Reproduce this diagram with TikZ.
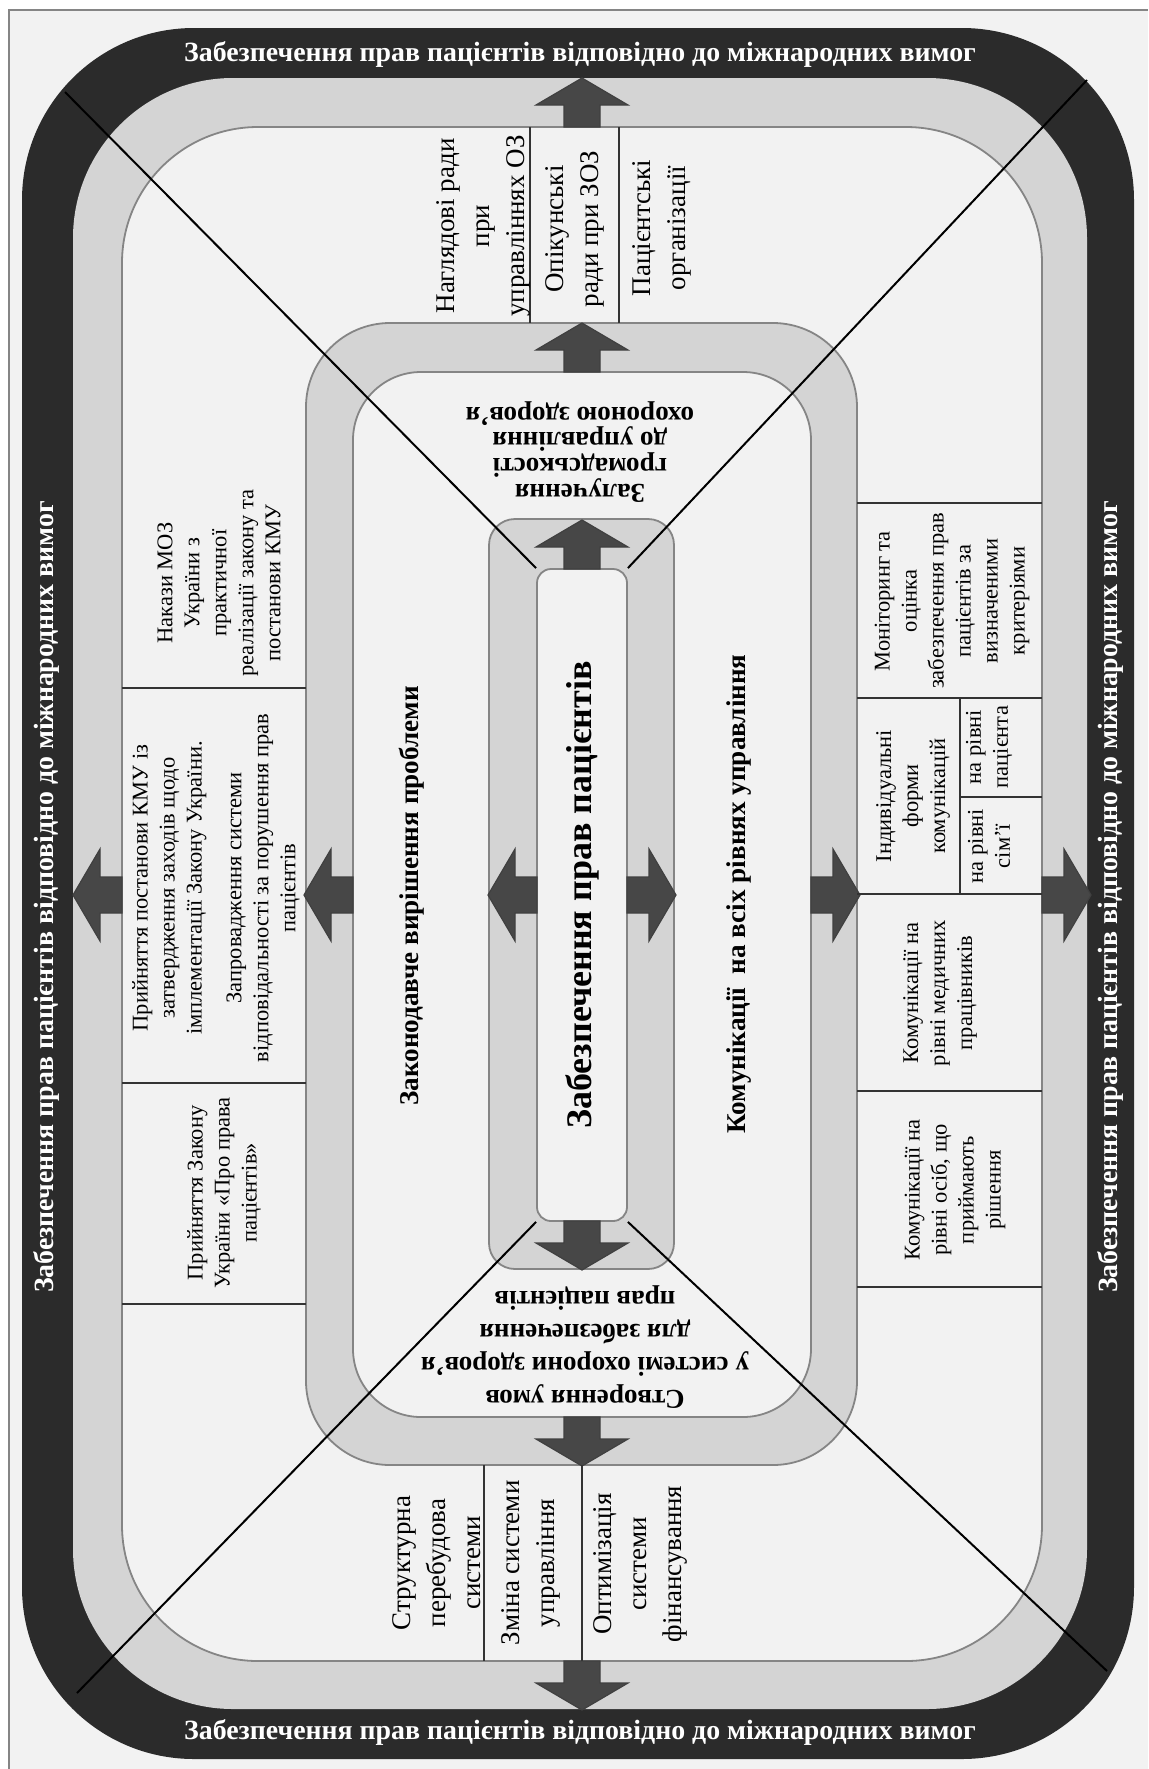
\documentclass[tikz,border=0pt]{standalone}
\usepackage{fontspec}
\setmainfont{Liberation Serif}
\usetikzlibrary{positioning}

\definecolor{bandblack}{HTML}{2B2B2B}
\definecolor{bandgray}{HTML}{D4D4D4}
\definecolor{paper}{HTML}{F2F2F2}
\definecolor{arrowgray}{HTML}{474747}
\definecolor{edgegray}{HTML}{858585}

\begin{document}
\begin{tikzpicture}[x=0.25mm, y=-0.25mm,
    ring/.style={draw=edgegray, line width=0.45mm, fill=bandgray},
    field/.style={draw=edgegray, line width=0.45mm, fill=paper},
    divider/.style={draw=black!80, line width=0.6mm},
    ray/.style={draw=black, line width=0.5mm},
    arrowbody/.style={draw=black!75, fill=arrowgray, line width=0.3mm},
    bandtext/.style={text=white, inner sep=0pt, font=\bfseries\fontsize{19.8}{23}\selectfont},
    coltext/.style={align=center, inner sep=0pt, font=\fontsize{19.2}{24.9}\selectfont},
    sidetext/.style={align=center, inner sep=0pt, font=\fontsize{16}{19.2}\selectfont},
    headtext/.style={align=center, inner sep=0pt, font=\bfseries\fontsize{19.3}{23.5}\selectfont},
    corebox/.style={draw=edgegray, fill=paper, line width=0.45mm, rounded corners=3.5mm,
        minimum width=163mm, minimum height=22.5mm, inner sep=0pt,
        font=\bfseries\fontsize{25.6}{30}\selectfont},
    blockarrow/.pic={\draw[arrowbody] (0,-18) -- (22,-18) -- (22,-46) -- (49,0) -- (22,46) -- (22,18) -- (0,18) -- cycle;}
  ]
    \useasboundingbox (0,0) rectangle (1148,1769);
    \fill[white] (0,0) rectangle (1148,1769);
    \fill[paper] (9,10) rectangle (1148,1769);
    \draw[edgegray, line width=0.4mm] (9,1769) -- (9,10) -- (1148,10);

    % outer frame
    \fill[bandblack, rounded corners=43mm] (22,28) rectangle (1134,1759);
    \fill[bandgray, rounded corners=40mm] (73,78) rectangle (1087,1709);
    \draw[field, rounded corners=34mm] (122,127) rectangle (1042,1661);

    % middle and inner rings
    \draw[ring, rounded corners=21mm] (306,323) rectangle (857,1465);
    \draw[field, rounded corners=17mm] (353,372) rectangle (811,1417);
    \draw[ring, rounded corners=6.5mm] (489,519) rectangle (674,1269);
    \node[corebox, rotate=90] (core) at (582,895) {Забезпечення прав пацієнтів};

    % rays to the corners
    \coordinate (farNW) at (65,92);
    \coordinate (farNE) at (1087,80);
    \coordinate (farSW) at (77,1693);
    \coordinate (farSE) at (1107,1671);
    \draw[ray] (core.north east) -- (farNW);
    \draw[ray] (core.south east) -- (farNE);
    \draw[ray] (core.north west) -- (farSW);
    \draw[ray] (core.south west) -- (farSE);

    % arrows
    \pic[rotate=90] at (582,569) {blockarrow};
    \pic[rotate=90] at (582,372) {blockarrow};
    \pic[rotate=90] at (582,127) {blockarrow};
    \pic[rotate=-90] at (582,1221) {blockarrow};
    \pic[rotate=-90] at (582,1417) {blockarrow};
    \pic[rotate=-90] at (582,1661) {blockarrow};
    \pic[rotate=180] at (537,895) {blockarrow};
    \pic[rotate=180] at (353,895) {blockarrow};
    \pic[rotate=180] at (122,895) {blockarrow};
    \pic at (627,895) {blockarrow};
    \pic at (811,895) {blockarrow};
    \pic at (1042,895) {blockarrow};

    % dividers
    \draw[divider] (530,127) -- (530,323);
    \draw[divider] (619,127) -- (619,323);
    \draw[divider] (484,1465) -- (484,1661);
    \draw[divider] (582,1465) -- (582,1661);
    \draw[divider] (122,688) -- (306,688);
    \draw[divider] (122,1083) -- (306,1083);
    \draw[divider] (122,1304) -- (306,1304);
    \draw[divider] (857,503) -- (1042,503);
    \draw[divider] (857,698) -- (1042,698);
    \draw[divider] (857,894) -- (1042,894);
    \draw[divider] (857,1091) -- (1042,1091);
    \draw[divider] (857,1287) -- (1042,1287);
    \draw[divider] (960,698) -- (960,894);
    \draw[divider] (960,797) -- (1042,797);

    % band labels
    \node[bandtext] (bandN) at (580,54) {Забезпечення прав пацієнтів відповідно до міжнародних вимог};
    \node[bandtext] (bandS) at (580,1732) {Забезпечення прав пацієнтів відповідно до міжнародних вимог};
    \node[bandtext, rotate=90] (bandW) at (47,897) {Забезпечення прав пацієнтів відповідно до міжнародних вимог};
    \node[bandtext, rotate=90] (bandE) at (1110,897) {Забезпечення прав пацієнтів відповідно до міжнародних вимог};

    % ring headings
    \node[headtext, rotate=90] (lawmaking) at (412,896) {Законодавче вирішення проблеми};
    \node[headtext, rotate=90] (communic) at (739,894) {Комунікації\ \ на всіх рівнях управління};
    \node[headtext, rotate=180, font=\bfseries\fontsize{19.3}{16.4}\selectfont] (publicrole) at (580,452)
        {Залучення\\громадськості\\до управління\\охороною здоров’я};
    \node[headtext, rotate=180] (conditions) at (585,1347)
        {Створення умов\\у системі охорони здоров’я\\для забезпечення\\прав пацієнтів};

    % top column
    \node[coltext, rotate=90] (boards) at (483,226) {Наглядові ради\\при\\управліннях ОЗ};
    \node[coltext, rotate=90] (trustees) at (575,229) {Опікунські\\ради при ЗОЗ};
    \node[coltext, rotate=90] (patorgs) at (662,228) {Пацієнтські\\організації};

    % bottom column
    \node[coltext, rotate=90] (restruct) at (437,1563) {Структурна\\перебудова\\системи};
    \node[coltext, rotate=90] (mgmt) at (531,1563) {Зміна системи\\управління};
    \node[coltext, rotate=90] (funding) at (640,1564) {Оптимізація\\системи\\фінансування};

    % left column
    \node[sidetext, rotate=90] (orders) at (219,583)
        {Накази МОЗ\\України з\\практичної\\реалізації закону та\\постанови КМУ};
    \node[sidetext, rotate=90] (resolution) at (216,888)
        {Прийняття постанови КМУ із\\затвердження заходів щодо\\імплементації Закону України.\\[9pt]Запровадження системи\\відповідальності за порушення прав\\пацієнтів};
    \node[sidetext, rotate=90] (lawact) at (224,1193) {Прийняття Закону\\України «Про права\\пацієнтів»};

    % right column
    \node[sidetext, rotate=90] (monitor) at (952,601)
        {Моніторинг та\\оцінка\\забезпечення прав\\пацієнтів за\\визначеними\\критеріями};
    \node[sidetext, rotate=90] (individual) at (913,796) {Індивідуальні\\форми\\комунікацій};
    \node[sidetext, rotate=90] (patlevel) at (989,747) {на рівні\\пацієнта};
    \node[sidetext, rotate=90] (famlevel) at (989,846) {на рівні\\сім’ї};
    \node[sidetext, rotate=90] (medlevel) at (940,993) {Комунікації на\\рівні медичних\\працівників};
    \node[sidetext, rotate=90] (deciders) at (955,1190) {Комунікації на\\рівні осіб, що\\приймають\\рішення};
\end{tikzpicture}
\end{document}
